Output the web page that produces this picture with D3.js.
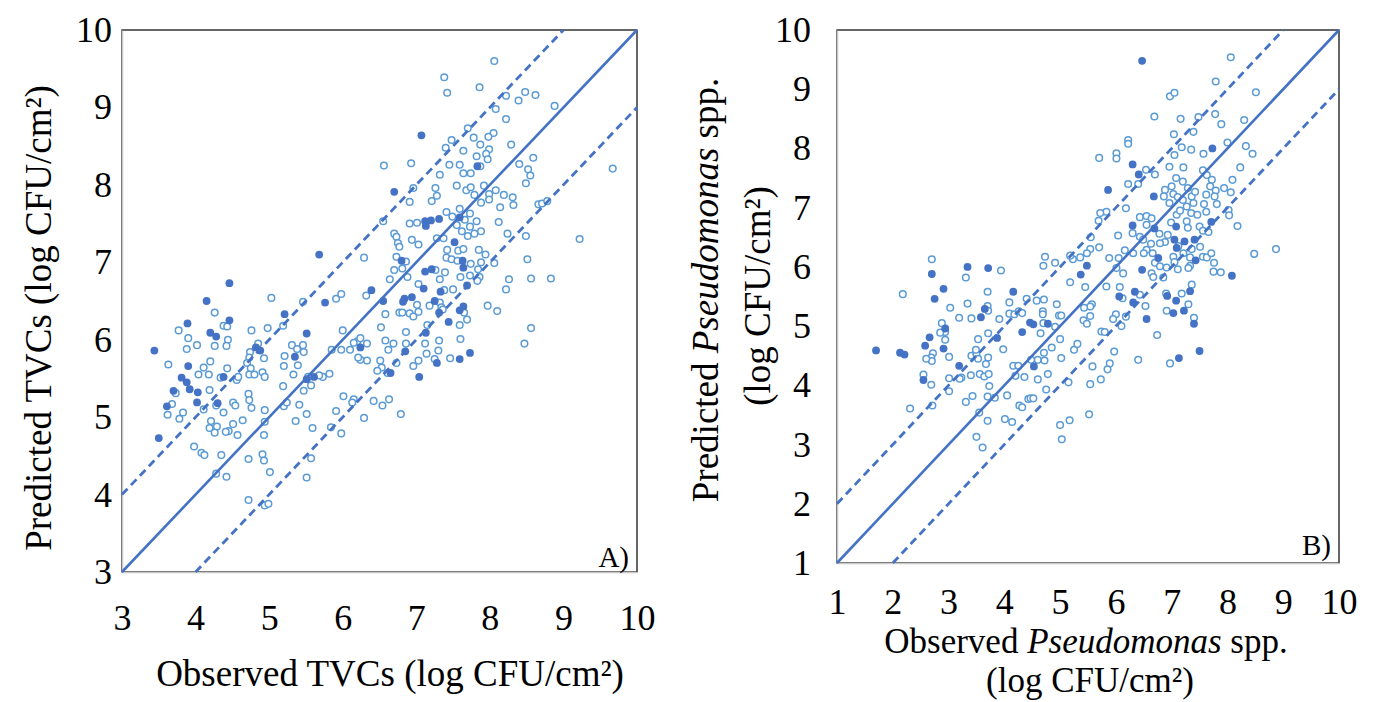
<!DOCTYPE html>
<html>
<head>
<meta charset="utf-8">
<script src="https://cdn.jsdelivr.net/npm/d3@7"></script>
<style>
  body { margin: 0; background: #fff; }
  svg text { font-family: "Liberation Serif", "Times New Roman", serif; fill: #000; }
</style>
</head>
<body>
<div id="chart"></div>
<script>
// observed vs predicted, log CFU/cm2  [observed, predicted]
const tvcFilled = [
  [5.68,7.10],[4.46,6.73],[4.15,6.50],[5.76,6.48],[3.89,6.21],[4.46,6.25],[4.20,6.09],[4.28,6.04],[3.44,5.86],[5.21,6.33],
  [5.51,6.08],[4.82,5.90],[4.88,5.86],[5.35,5.78],[3.90,5.66],[3.81,5.51],[3.88,5.45],[3.92,5.36],[4.03,5.32],[4.02,5.19],
  [3.70,5.34],[3.61,5.14],[4.30,5.18],[4.38,5.52],[5.51,5.49],[5.61,5.52],[6.24,5.90],[3.50,4.73],
  [7.07,8.64],[7.83,8.24],[6.70,7.91],[7.12,7.53],[7.13,7.47],[7.20,7.54],[7.31,7.56],[7.59,7.58],[7.52,7.26],[7.63,7.02],
  [7.64,6.93],[6.80,7.02],[7.12,6.88],[7.21,6.91],[7.69,6.70],[7.10,6.66],[7.33,6.62],[6.39,6.64],[6.84,6.53],[6.94,6.55],
  [6.55,6.50],[6.82,6.49],[7.25,6.50],[7.31,6.35],[7.44,6.23],[7.59,6.38],[7.64,6.43],[7.13,6.09],[6.85,5.85],[7.73,5.83],
  [7.59,5.75],[7.28,5.70],[6.65,5.57],[7.04,5.52]
];

const tvcOpen = [
  [6.29,7.06],[5.03,6.54],[5.46,6.49],[5.91,6.53],[5.98,6.59],[6.32,6.57],[4.26,6.35],[3.77,6.12],[3.90,6.02],[3.88,5.88],
  [4.02,5.93],[4.26,5.92],[4.38,6.18],[4.43,6.17],[4.44,6.00],[4.42,5.92],[4.76,6.12],[4.98,6.15],[5.19,6.18],[4.85,5.95],
  [4.74,5.84],[4.73,5.77],[4.93,5.76],[4.70,5.70],[4.75,5.63],[4.73,5.55],[4.80,5.55],[4.91,5.58],[4.94,5.52],[5.21,5.79],
  [5.20,5.66],[5.31,5.93],[5.46,5.93],[5.38,5.88],[5.47,5.84],[5.39,5.67],[5.33,5.55],[5.19,5.40],[5.20,5.14],[5.24,5.19],
  [5.41,5.16],[5.51,5.04],[5.36,4.95],[5.59,4.86],[4.94,5.09],[4.72,5.30],[4.73,5.22],[4.76,5.12],[4.51,5.19],[4.54,5.15],
  [4.64,4.96],[4.51,4.91],[4.57,4.77],[4.45,4.82],[4.41,4.81],[4.29,4.88],[4.21,4.95],[4.19,4.86],[4.26,4.80],[4.38,5.06],
  [4.28,5.15],[4.11,5.10],[4.19,5.35],[4.04,5.55],[4.11,5.64],[4.20,5.72],[4.18,5.55],[4.34,5.51],[4.43,5.63],[4.56,5.48],
  [4.58,5.52],[3.68,5.17],[3.62,5.03],[3.78,4.98],[3.83,5.06],[3.73,5.31],[3.63,5.68],[3.98,4.62],[4.08,4.54],[4.12,4.51],
  [4.35,4.51],[4.28,4.27],[4.42,4.23],[4.72,4.46],[4.91,4.52],[4.93,4.44],[5.01,4.29],[4.93,4.77],[4.94,4.94],[4.72,3.93],
  [4.94,3.86],[4.99,3.88],[5.51,4.22],[5.57,4.47],[5.84,4.87],[5.98,4.79],[5.91,5.08],[6.01,5.27],[6.15,5.23],[6.13,5.19],
  [6.29,4.99],[6.33,5.73],[6.24,5.74],[6.21,5.77],[6.20,5.98],[6.15,5.96],[6.24,6.02],[6.33,5.95],[6.10,5.87],[5.98,5.87],
  [5.85,5.87],[6.00,6.12],[5.73,5.52],[5.82,5.56],[5.68,5.54],[5.57,5.41],[5.47,5.34],[5.53,5.52],
  [8.06,9.60],[7.38,9.39],[7.42,9.19],[7.86,9.26],[8.22,9.15],[8.48,9.20],[8.62,9.16],[8.39,9.09],[8.08,8.98],[8.88,9.02],
  [8.22,8.85],[7.70,8.73],[8.05,8.67],[7.98,8.62],[7.48,8.58],[7.78,8.61],[7.87,8.52],[7.99,8.46],[7.40,8.48],[7.64,8.44],
  [8.29,8.52],[6.56,8.25],[6.93,8.28],[7.45,8.26],[7.59,8.26],[7.82,8.37],[7.95,8.40],[7.97,8.33],[7.87,8.24],[7.64,8.15],
  [7.74,8.15],[7.32,8.13],[8.40,8.27],[8.59,8.35],[8.52,8.20],[8.55,8.12],[8.49,8.02],[9.67,8.21],[6.96,7.96],[7.26,7.96],
  [7.28,7.86],[7.21,7.79],[6.91,7.78],[7.55,7.99],[7.68,7.93],[7.74,7.97],[7.92,7.99],[7.79,7.87],[7.99,7.88],[8.08,7.93],
  [8.19,7.87],[8.31,7.84],[8.32,7.74],[7.99,7.81],[7.88,7.77],[8.14,7.71],[8.66,7.75],[8.71,7.76],[8.78,7.79],[7.41,7.65],
  [6.55,7.53],[6.91,7.50],[7.01,7.51],[7.49,7.59],[7.59,7.69],[7.66,7.55],[7.73,7.63],[7.82,7.53],[7.73,7.46],[7.55,7.48],
  [7.62,7.40],[7.70,7.34],[7.79,7.37],[7.88,7.40],[8.12,7.52],[8.24,7.37],[8.49,7.34],[9.22,7.30],[6.70,7.37],[6.73,7.33],
  [6.75,7.25],[6.77,7.20],[6.94,7.29],[7.03,7.23],[7.28,7.31],[7.37,7.31],[7.42,7.16],[7.57,7.15],[7.64,7.17],[7.41,7.06],
  [7.48,7.04],[7.56,7.02],[7.74,6.98],[7.85,7.16],[7.94,7.10],[7.88,7.00],[7.84,6.91],[8.06,6.99],[8.51,7.04],[6.73,7.07],
  [6.86,7.01],[6.81,6.92],[6.70,6.90],[6.64,6.78],[6.88,6.81],[7.26,6.90],[7.39,6.87],[7.32,6.78],[7.60,6.81],[7.73,6.83],
  [7.86,6.81],[7.83,6.76],[8.26,6.78],[8.56,6.79],[8.83,6.79],[8.22,6.65],[7.03,6.72],[7.38,6.64],[7.50,6.65],
  [6.58,6.33],[6.77,6.35],[6.81,6.35],[6.91,6.34],[6.96,6.30],[7.03,6.36],[7.01,6.45],[7.18,6.44],[7.32,6.48],[7.34,6.42],
  [7.36,6.39],[7.65,6.35],[7.69,6.26],[7.59,6.19],[7.97,6.44],[8.10,6.37],[8.56,6.15],[8.47,5.95],[6.52,6.16],[6.86,6.10],
  [7.15,6.19],[6.58,5.99],[6.69,5.95],[6.62,5.87],[6.86,5.95],[7.12,5.95],[7.31,5.99],[7.14,5.82],[7.30,5.86],[7.60,6.01],
  [7.46,5.76],[7.25,5.75],[7.03,5.73],[6.96,5.66],[6.73,5.70],[6.51,5.73],[6.53,5.64],[6.47,5.60],[6.61,5.57],[6.42,5.21],
  [6.54,5.15],[6.63,5.23],[6.79,5.04]
];

const pseFilled = [
  [1.70,4.59],[2.13,4.55],[2.21,4.52],[2.70,5.88],[2.91,5.63],[2.75,5.46],[3.34,6.00],[3.71,5.98],[4.16,5.58],[2.66,4.81],
  [2.58,4.67],[2.94,4.96],[2.91,4.62],[2.55,4.09],[3.19,4.33],[3.58,5.15],[3.65,5.29],[3.87,4.80],[4.32,4.90],[4.46,5.06],
  [4.52,5.03],[4.78,5.04],[4.53,4.32],
  [6.47,9.48],[6.30,7.73],[6.41,7.56],[5.86,7.30],[6.68,7.19],[7.73,8.00],[6.30,6.70],[6.69,6.65],[7.08,6.68],[7.05,6.46],
  [7.23,6.43],[7.41,6.46],[7.09,6.32],[6.76,6.15],[7.43,6.11],[5.48,6.02],[5.37,5.87],[6.47,5.95],[8.08,5.85],[7.71,6.76],
  [6.34,5.58],[6.31,5.40],[6.55,5.12],[6.92,5.51],[7.08,5.43],[7.03,5.22],[7.22,5.26],[7.40,5.04],[7.50,4.58],[7.13,4.46],
  [7.33,5.59],[6.06,5.50]
];

const pseOpen = [
  [2.70,6.13],[2.18,5.54],[3.31,5.82],[3.94,5.94],[3.70,5.58],[3.03,5.31],[3.34,5.38],[3.19,5.14],[3.41,5.13],[3.70,5.34],
  [3.71,5.26],[3.91,5.12],[4.09,5.40],[4.09,5.21],[4.18,5.20],[4.26,5.25],[4.32,5.22],[4.40,5.46],[4.58,5.43],[4.71,5.45],
  [4.69,5.25],[4.69,5.20],[4.70,5.05],[4.65,4.88],[4.94,5.37],[4.98,5.18],[5.02,5.18],[4.71,4.55],[4.85,4.64],[4.78,4.19],
  [4.75,3.93],[4.91,4.99],[5.25,4.60],[5.31,4.70],[5.17,3.41],[5.00,3.33],[5.03,3.09],[2.94,4.90],[2.94,4.77],[2.72,4.54],
  [2.69,4.47],[2.70,4.41],[2.60,4.45],[2.55,4.18],[2.69,4.01],[3.01,4.12],[3.01,3.90],[2.71,3.66],[2.31,3.61],[3.40,4.17],
  [3.56,4.19],[3.67,4.36],[3.71,4.47],[3.64,4.15],[3.72,4.19],[3.73,3.99],[3.70,3.81],[3.83,3.79],[3.43,3.82],[3.31,3.72],
  [3.41,4.50],[3.50,4.52],[3.53,4.45],[3.49,4.60],[3.53,4.78],[3.71,4.88],[3.98,4.61],[4.05,3.83],[4.16,4.33],[4.25,4.33],
  [4.36,4.14],[4.20,4.16],[4.27,3.66],[4.32,3.63],[4.01,3.43],[4.14,3.38],[4.43,3.77],[4.47,3.78],[4.52,3.78],[4.60,4.10],
  [4.60,4.43],[4.48,4.43],[4.72,4.42],[3.50,3.13],[3.61,2.95],[3.70,3.40],[3.55,3.54],[3.23,4.13],[2.88,5.05],[2.85,4.89],
  [3.01,4.48],[3.20,4.11],[5.00,4.78],[5.15,4.05],[5.02,4.46],
  [8.06,9.54],[7.79,9.13],[8.51,8.95],[6.97,8.88],[7.05,8.94],[6.69,8.54],[7.16,8.50],[7.48,8.53],[7.78,8.58],[8.30,8.48],
  [7.89,8.41],[7.39,8.28],[7.04,8.24],[6.22,8.14],[6.22,8.08],[6.01,7.92],[6.01,7.83],[5.70,7.84],[7.18,8.02],[7.35,7.98],
  [7.05,7.89],[7.57,7.91],[8.00,8.10],[8.33,8.04],[8.45,7.91],[8.23,7.68],[8.09,7.47],[7.94,7.33],[8.06,7.26],[8.02,6.96],
  [8.03,6.87],[8.18,6.69],[6.96,7.69],[7.21,7.68],[6.54,7.64],[6.70,7.56],[6.22,7.40],[6.40,7.40],[7.08,7.50],[7.20,7.44],
  [7.29,7.33],[6.88,7.30],[7.00,7.36],[7.03,7.23],[7.11,7.18],[7.20,7.13],[7.36,7.19],[7.42,7.27],[7.56,7.63],[7.63,7.55],
  [7.72,7.47],[7.69,7.36],[7.79,7.29],[7.77,7.19],[7.62,7.22],[7.58,7.06],[7.81,7.06],[7.39,7.08],[7.27,7.02],[6.96,7.08],
  [6.86,7.19],[6.18,6.99],[5.83,6.93],[5.72,6.91],[5.69,6.78],[6.04,6.53],[6.30,6.57],[6.43,6.51],[6.49,6.46],[6.43,6.84],
  [6.55,6.86],[6.64,6.82],[6.78,6.56],[6.99,6.75],[7.09,6.88],[7.15,6.95],[7.35,6.91],[7.46,6.88],[7.62,6.93],[7.27,6.77],
  [7.29,6.66],[7.50,6.68],[7.56,6.61],[7.66,6.59],[6.88,6.42],[6.93,6.54],[6.79,6.40],[6.63,6.39],[6.55,6.29],[6.50,6.23],
  [6.66,6.23],[6.70,6.07],[6.79,6.01],[6.91,5.99],[7.12,6.35],[7.21,6.23],[7.36,6.30],[7.51,6.34],[7.33,6.16],[7.33,6.02],
  [7.30,5.98],[7.56,6.17],[7.63,6.16],[7.71,6.23],[7.76,6.07],[7.88,5.91],[7.03,6.17],[7.05,6.08],[7.11,5.96],[6.85,5.82],
  [6.64,5.89],[6.67,5.83],[6.16,6.28],[6.31,6.23],[6.05,6.15],[5.88,6.15],[5.70,6.33],[5.54,6.30],[5.48,6.23],[5.36,6.16],
  [5.23,6.13],[5.18,6.19],[4.91,6.07],[4.73,6.17],[4.70,6.02],[5.55,6.50],[6.55,6.71],[6.13,5.89],[6.01,5.98],[5.83,5.67],
  [6.07,5.66],[5.18,5.74],[5.45,5.66],[8.48,6.22],[8.87,6.30],[7.75,5.92],[7.36,5.70],
  [5.57,5.37],[5.54,5.33],[5.43,5.31],[5.54,5.17],[5.42,5.10],[5.48,5.04],[6.00,5.20],[5.95,5.12],[6.18,5.16],[6.10,5.00],
  [5.74,4.91],[5.80,4.90],[5.97,4.57],[6.40,4.43],[6.74,4.85],[6.91,5.26],[6.97,4.37],[5.89,4.37],[5.85,4.27],[5.58,4.32],
  [5.54,4.02],[5.73,4.10],[5.52,3.51],[6.43,5.53],[6.53,5.34],[6.12,5.47],[7.30,5.37],[7.40,5.14],[6.90,5.55],[7.18,5.55]
];

// y = x and the +/- 1 log bands
const bandOffsets = [0, 1, -1];

const tvcTicks = [3, 4, 5, 6, 7, 8, 9, 10];
const pseTicks = [1, 2, 3, 4, 5, 6, 7, 8, 9, 10];

const darkBlue = "#4472C4";
const lightBlue = "#5B9BD5";

const svg = d3.select("#chart").append("svg")
    .attr("width", 1373)
    .attr("height", 702);

function drawPanel(cfg) {
    const x = d3.scaleLinear().domain(cfg.domain).range([cfg.left, cfg.right]);
    const y = d3.scaleLinear().domain(cfg.domain).range([cfg.bottom, cfg.top]);
    const g = svg.append("g");

    // plot box: top/right black, left/bottom grey axis lines
    g.append("rect")
        .attr("x", cfg.left).attr("y", cfg.top)
        .attr("width", cfg.right - cfg.left).attr("height", cfg.bottom - cfg.top)
        .attr("fill", "none").attr("stroke", "#000").attr("stroke-width", 1.2);

    const fmt = d3.format("d");
    const xAxis = g.append("g")
        .attr("transform", `translate(0,${cfg.bottom})`)
        .call(d3.axisBottom(x).tickValues(cfg.ticks).tickFormat(fmt).tickSize(0).tickPadding(cfg.xPad));
    const yAxis = g.append("g")
        .attr("transform", `translate(${cfg.left},0)`)
        .call(d3.axisLeft(y).tickValues(cfg.ticks).tickFormat(fmt).tickSize(0).tickPadding(cfg.yPad));

    [xAxis, yAxis].forEach(a => {
        a.attr("font-family", null).attr("font-size", null);
        a.select(".domain").attr("stroke", "#c8c8c8").attr("stroke-width", 1.5);
        a.selectAll("text")
            .style("font-size", "36px")
            .attr("fill", "#000");
    });

    g.selectAll("circle.open")
        .data(cfg.open)
        .join("circle")
        .attr("class", "open")
        .attr("cx", d => x(d[0]))
        .attr("cy", d => y(d[1]))
        .attr("r", 3.3)
        .attr("fill", "#fff")
        .attr("stroke", lightBlue)
        .attr("stroke-width", 1.5);

    g.selectAll("circle.filled")
        .data(cfg.filled)
        .join("circle")
        .attr("class", "filled")
        .attr("cx", d => x(d[0]))
        .attr("cy", d => y(d[1]))
        .attr("r", 3.9)
        .attr("fill", darkBlue);

    const [lo, hi] = cfg.domain;
    bandOffsets.forEach(off => {
        const x0 = Math.max(lo, lo - off), x1 = Math.min(hi, hi - off);
        g.append("line")
            .attr("x1", x(x0)).attr("y1", y(x0 + off))
            .attr("x2", x(x1)).attr("y2", y(x1 + off))
            .attr("stroke", darkBlue)
            .attr("stroke-width", off === 0 ? 2.6 : 2.8)
            .attr("stroke-dasharray", off === 0 ? null : "8,5");
    });

    g.append("text")
        .attr("x", cfg.right - 8)
        .attr("y", cfg.bottom - cfg.tagDrop)
        .attr("text-anchor", "end")
        .style("font-size", "29px")
        .text(cfg.tag);

    return g;
}

drawPanel({
    domain: [3, 10], ticks: tvcTicks,
    left: 122, right: 637, top: 30, bottom: 572,
    xPad: 32, yPad: 10,
    open: tvcOpen, filled: tvcFilled,
    tag: "A)", tagDrop: 5
});

drawPanel({
    domain: [1, 10], ticks: pseTicks,
    left: 837, right: 1339, top: 30, bottom: 563,
    xPad: 25, yPad: 26,
    open: pseOpen, filled: pseFilled,
    tag: "B)", tagDrop: 8
});

// axis titles
svg.append("text")
    .attr("x", 390).attr("y", 686)
    .attr("text-anchor", "middle")
    .style("font-size", "37px")
    .text("Observed TVCs (log CFU/cm²)");

svg.append("text")
    .attr("transform", "translate(38,318) rotate(-90)")
    .attr("dy", "0.35em")
    .attr("text-anchor", "middle")
    .style("font-size", "37px")
    .text("Predicted TVCs (log CFU/cm²)");

const bx1 = svg.append("text")
    .attr("x", 1086).attr("y", 653)
    .attr("text-anchor", "middle")
    .style("font-size", "35px");
bx1.append("tspan").text("Observed ");
bx1.append("tspan").style("font-style", "italic").text("Pseudomonas");
bx1.append("tspan").text(" spp.");

svg.append("text")
    .attr("x", 1090).attr("y", 692)
    .attr("text-anchor", "middle")
    .style("font-size", "35px")
    .text("(log CFU/cm²)");

const by1 = svg.append("text")
    .attr("transform", "translate(705,290) rotate(-90)")
    .attr("dy", "0.35em")
    .attr("text-anchor", "middle")
    .style("font-size", "37px");
by1.append("tspan").text("Predicted ");
by1.append("tspan").style("font-style", "italic").text("Pseudomonas");
by1.append("tspan").text(" spp.");

svg.append("text")
    .attr("transform", "translate(757,296) rotate(-90)")
    .attr("dy", "0.35em")
    .attr("text-anchor", "middle")
    .style("font-size", "37px")
    .text("(log CFU/cm²)");
</script>
</body>
</html>
